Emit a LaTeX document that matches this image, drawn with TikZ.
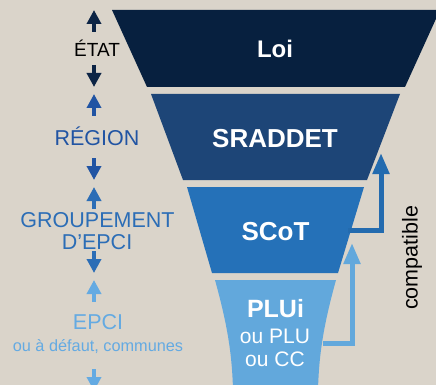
\documentclass[tikz,border=0pt]{standalone}
\usepackage{fontspec}
\setmainfont{Liberation Sans}
\usetikzlibrary{arrows.meta}

\definecolor{fond}{HTML}{DAD4CA}
\definecolor{cLoi}{HTML}{07203F}
\definecolor{cSrad}{HTML}{1D4577}
\definecolor{cScot}{HTML}{2571B8}
\definecolor{cPlu}{HTML}{62A8DC}
\definecolor{tEtat}{HTML}{0C2445}
\definecolor{tReg}{HTML}{2154A3}
\definecolor{tGrp}{HTML}{2B6DB6}
\definecolor{tEpci}{HTML}{64AAE2}

\begin{document}
\begin{tikzpicture}[x=1pt, y=-1pt,
        lvl/.style={anchor=base, font=\fontsize{21.5}{24}\selectfont},
        lbl/.style={anchor=base, text=white, font=\bfseries\fontsize{26}{28}\selectfont},
        updown/.style={line width=3.5pt, -{Triangle[width=14pt,length=14pt]}},
        compat/.style={line width=5pt, -{Triangle[width=16pt,length=21pt]}}]
        \useasboundingbox (0,0) rectangle (436,385);
        \clip (0,0) rectangle (436,385);
        \fill[fond] (0,0) rectangle (436,385);

        % funnel bands
        \fill[cLoi] (112,10) -- (440,10) -- (405,87) -- (147,87) -- cycle;
        \fill[cSrad] (151,94) -- (400,94) -- (367,180) -- (183,180) -- cycle;
        \fill[cScot] (187,187) -- (364,187) -- (338,273) -- (212,273) -- cycle;
        \fill[cPlu] (215,280) -- (336,280) .. controls (325,320) and (319,350) .. (318,390)
                -- (233,390) .. controls (232,350) and (226,320) .. (215,280) -- cycle;

        \node[lbl, font=\bfseries\fontsize{24}{26}\selectfont] (B1) at (275,58) {Loi};
        \node[lbl] (B2) at (275,147) {SRADDET};
        \node[lbl] (B3) at (275.5,240) {SCoT};
        \node[lbl, font=\bfseries\fontsize{25}{27}\selectfont] (B4) at (275.5,317) {PLUi};
        \node[lbl, font=\fontsize{21}{23}\selectfont] (B4a) at (275,343) {ou PLU};
        \node[lbl, font=\fontsize{21}{23}\selectfont] (B4b) at (275,366) {ou CC};

        % compatibility arrows
        \coordinate (K1) at (348,230);
        \coordinate (K2) at (381,153);
        \coordinate (K3) at (323,343);
        \coordinate (K4) at (352,243);
        \draw[compat, cScot!95!black] (K1) -| (K2);
        \draw[compat, cPlu] (K3) -| (K4);
        \node[rotate=90, font=\fontsize{21.5}{24}\selectfont] (C1) at (412,258) {compatible};

        % levels on the left
        \node[lvl, text=black, font=\fontsize{19}{21}\selectfont] (E1) at (97,57) {ÉTAT};
        \node[lvl, text=tReg] (E2) at (97,145) {RÉGION};
        \node[lvl, text=tGrp] (E3) at (97.5,227) {GROUPEMENT};
        \node[lvl, text=tGrp] (E3a) at (97,249) {D’EPCI};
        \node[lvl, text=tEpci] (E4) at (98,329) {EPCI};
        \node[lvl, text=tEpci, font=\fontsize{16.3}{18}\selectfont] (E4a) at (98,351) {ou à défaut, communes};

        \coordinate (U1) at (94,32); \coordinate (V1) at (94,10);
        \coordinate (U2) at (94,65); \coordinate (V2) at (94,87);
        \coordinate (U3) at (94,116); \coordinate (V3) at (94,94);
        \coordinate (U4) at (94,158); \coordinate (V4) at (94,180);
        \coordinate (U5) at (94,209); \coordinate (V5) at (94,187);
        \coordinate (U6) at (94,251); \coordinate (V6) at (94,273);
        \coordinate (U7) at (94,302); \coordinate (V7) at (94,280);
        \coordinate (U8) at (94,369); \coordinate (V8) at (94,391);

        \draw[updown, tEtat] (U1) -- (V1);
        \draw[updown, tEtat] (U2) -- (V2);
        \draw[updown, tReg] (U3) -- (V3);
        \draw[updown, tReg] (U4) -- (V4);
        \draw[updown, tGrp] (U5) -- (V5);
        \draw[updown, tGrp] (U6) -- (V6);
        \draw[updown, tEpci] (U7) -- (V7);
        \draw[updown, tEpci] (U8) -- (V8);
\end{tikzpicture}
\end{document}
